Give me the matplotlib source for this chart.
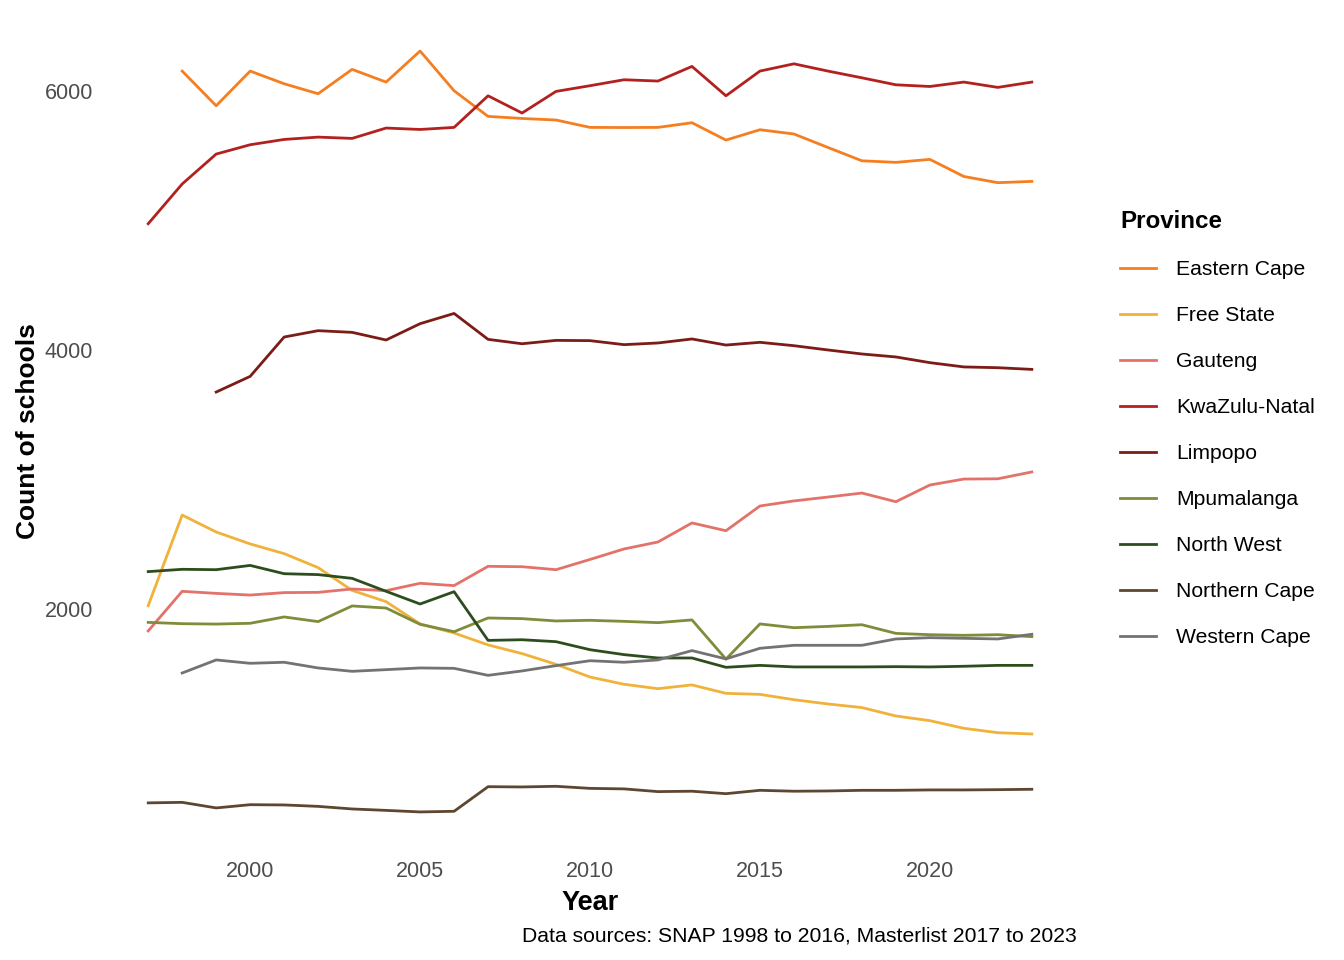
import matplotlib
matplotlib.use("Agg")
import matplotlib.pyplot as plt

plt.rcParams['font.family'] = ['Liberation Sans', 'DejaVu Sans']

# Number of schools per province
years = list(range(1997, 2024))

eastern_cape = [None, 6152, 5884, 6152, 6054, 5977, 6165, 6067, 6307, 6000, 5802, 5786, 5774,
                5717, 5716, 5717, 5753, 5619, 5699, 5666, 5562, 5459, 5447, 5470, 5338, 5290, 5300]
free_state = [2023, 2723, 2592, 2500, 2425, 2317, 2141, 2054, 1882, 1812, 1720, 1653, 1570,
              1472, 1416, 1382, 1411, 1346, 1338, 1297, 1264, 1236, 1171, 1135, 1076, 1042, 1032]
gauteng = [1828, 2134, 2118, 2105, 2124, 2126, 2152, 2139, 2196, 2178, 2327, 2324, 2301,
           2380, 2461, 2515, 2662, 2602, 2793, 2832, 2862, 2893, 2826, 2955, 3001, 3003, 3056]
kwazulu_natal = [4973, 5280, 5511, 5583, 5624, 5642, 5632, 5712, 5701, 5717, 5961, 5828, 5995,
                 6039, 6085, 6075, 6188, 5961, 6152, 6208, 6152, 6100, 6046, 6033, 6067, 6026, 6067]
limpopo = [None, None, 3673, 3794, 4098, 4147, 4134, 4075, 4201, 4280, 4080, 4046, 4072,
           4070, 4039, 4052, 4083, 4036, 4057, 4031, 3998, 3967, 3944, 3900, 3867, 3861, 3848]
mpumalanga = [1894, 1884, 1881, 1887, 1936, 1900, 2021, 2005, 1879, 1822, 1928, 1923, 1905,
              1910, 1902, 1892, 1913, 1610, 1882, 1853, 1863, 1876, 1809, 1799, 1794, 1799, 1784]
north_west = [2286, 2304, 2301, 2334, 2270, 2263, 2234, 2134, 2036, 2131, 1755, 1760, 1745,
              1683, 1645, 1619, 1619, 1547, 1562, 1550, 1550, 1550, 1552, 1550, 1555, 1562, 1562]
northern_cape = [500, 504, 461, 486, 484, 473, 453, 442, 430, 435, 625, 623, 628,
                 612, 608, 587, 590, 571, 597, 590, 592, 597, 597, 600, 600, 602, 605]
western_cape = [None, 1503, 1604, 1578, 1586, 1542, 1516, 1529, 1542, 1539, 1485, 1519, 1560,
                1598, 1586, 1604, 1676, 1612, 1694, 1717, 1717, 1717, 1766, 1776, 1771, 1766, 1802]

provinces = ["Eastern Cape", "Free State", "Gauteng", "KwaZulu-Natal", "Limpopo",
             "Mpumalanga", "North West", "Northern Cape", "Western Cape"]
series = [eastern_cape, free_state, gauteng, kwazulu_natal, limpopo,
          mpumalanga, north_west, northern_cape, western_cape]
colours = ["#F57E20", "#F0B23A", "#E3736A", "#B3211E", "#7C1C17",
           "#7F8C3A", "#2E4D1E", "#5E4630", "#737373"]

fig = plt.figure(figsize=(13.44, 9.6), dpi=100)
ax = fig.add_axes([0.0774, 0.1146, 0.7232, 0.8719])

for name, vals, col in zip(provinces, series, colours):
    xs = [y for y, v in zip(years, vals) if v is not None]
    ys = [v for v in vals if v is not None]
    ax.plot(xs, ys, color=col, linewidth=2, label=name)

ax.set_yticks([2000, 4000, 6000])
ax.set_xticks([2000, 2005, 2010, 2015, 2020])
ax.tick_params(length=0, labelsize=15.5, labelcolor="#4D4D4D", pad=8)
for s in ax.spines.values():
    s.set_visible(False)
ax.grid(False)

ax.set_xlabel("Year", fontsize=19.5, fontweight="bold", labelpad=6)
ax.set_ylabel("Count of schools", fontsize=19, fontweight="bold", labelpad=3)

fig.text(1077 / 1344, 1 - 936 / 960, "Data sources: SNAP 1998 to 2016, Masterlist 2017 to 2023",
         ha="right", va="center", fontsize=15.2)

leg = ax.legend(loc="upper left", bbox_to_anchor=(1101 / 1344, 1 - 191 / 960),
                bbox_transform=fig.transFigure, frameon=False, fontsize=15.2,
                title="Province", title_fontproperties={"weight": "bold", "size": 17.4},
                handlelength=1.7, handletextpad=0.95, labelspacing=1.28, alignment="left")

fig.savefig("out.png", dpi=100)
